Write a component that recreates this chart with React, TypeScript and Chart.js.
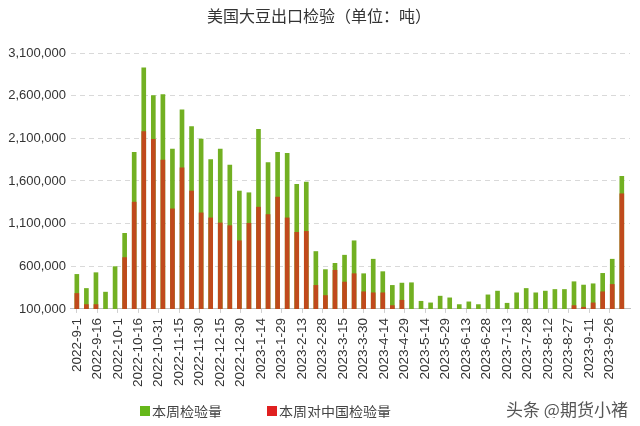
import React, { useEffect, useRef } from "react";
import { Chart, registerables } from "chart.js";

Chart.register(...registerables);

const weekDates = [
  "2022-9-1", "2022-9-8", "2022-9-15", "2022-9-22", "2022-9-29",
  "2022-10-6", "2022-10-13", "2022-10-20", "2022-10-27",
  "2022-11-3", "2022-11-10", "2022-11-17", "2022-11-24",
  "2022-12-1", "2022-12-8", "2022-12-15", "2022-12-22", "2022-12-29",
  "2023-1-5", "2023-1-12", "2023-1-19", "2023-1-26",
  "2023-2-2", "2023-2-9", "2023-2-16", "2023-2-23",
  "2023-3-2", "2023-3-9", "2023-3-16", "2023-3-23", "2023-3-30",
  "2023-4-6", "2023-4-13", "2023-4-20", "2023-4-27",
  "2023-5-4", "2023-5-11", "2023-5-18", "2023-5-25",
  "2023-6-1", "2023-6-8", "2023-6-15", "2023-6-22", "2023-6-29",
  "2023-7-6", "2023-7-13", "2023-7-20", "2023-7-27",
  "2023-8-3", "2023-8-10", "2023-8-17", "2023-8-24", "2023-8-31",
  "2023-9-7", "2023-9-14", "2023-9-21", "2023-9-28", "2023-10-5",
];

const totalInspections = [
  505000, 340000, 525000, 297000, 596000, 986000, 1935000, 2927000, 2600000, 2612000,
  1974000, 2435000, 2238000, 2092000, 1852000, 1974000, 1785000, 1482000, 1462000, 2206000,
  1817000, 1935000, 1923000, 1561000, 1588000, 773000, 561000, 635000, 730000, 899000,
  513000, 683000, 537000, 376000, 403000, 407000, 190000, 171000, 250000, 230000,
  151000, 183000, 151000, 265000, 309000, 167000, 289000, 340000, 289000, 309000,
  328000, 328000, 419000, 380000, 395000, 517000, 683000, 1653000,
];

const chinaInspections = [
  281000, 151000, 151000, 50000, 20000, 702000, 1352000, 2179000, 2088000, 1844000,
  1273000, 1754000, 1482000, 1226000, 1167000, 1108000, 1076000, 899000, 1104000, 1293000,
  1206000, 1411000, 1167000, 998000, 1009000, 376000, 257000, 553000, 415000, 513000,
  301000, 289000, 289000, 139000, 202000, 20000, 0, 0, 0, 0,
  0, 0, 0, 0, 0, 0, 0, 0, 0, 0,
  0, 0, 139000, 120000, 171000, 301000, 387000, 1450000,
];

const xTickLabels = [
  "2022-9-1", "2022-9-16", "2022-10-1", "2022-10-16", "2022-10-31", "2022-11-15",
  "2022-11-30", "2022-12-15", "2022-12-30", "2023-1-14", "2023-1-29", "2023-2-13",
  "2023-2-28", "2023-3-15", "2023-3-30", "2023-4-14", "2023-4-29", "2023-5-14",
  "2023-5-29", "2023-6-13", "2023-6-28", "2023-7-13", "2023-7-28", "2023-8-12",
  "2023-8-27", "2023-9-11", "2023-9-26",
];

const yTicks = [100000, 600000, 1100000, 1600000, 2100000, 2600000, 3100000];

const seriesNames = ["本周检验量", "本周对中国检验量"];
const titleText = "美国大豆出口检验（单位：吨）";
const watermark = "头条 @期货小褚";

const GREEN = "#72b022";
const RED = "#c04a1c";

function dayOffset(s: string): number {
  const [y, m, d] = s.split("-").map(Number);
  const base = Date.UTC(2022, 8, 1);
  return Math.round((Date.UTC(y, m - 1, d) - base) / 86400000);
}

export default function App() {
  const ref = useRef<HTMLCanvasElement | null>(null);

  useEffect(() => {
    if (!ref.current) return;
    const xs = weekDates.map(dayOffset);
    const tickPos = xTickLabels.map(dayOffset);
    const labelAt: Record<number, string> = {};
    tickPos.forEach((p, i) => (labelAt[p] = xTickLabels[i]));

    const chart = new Chart(ref.current, {
      type: "bar",
      data: {
        datasets: [
          {
            label: seriesNames[0],
            data: xs.map((x, i) => ({ x, y: totalInspections[i] })),
            backgroundColor: GREEN,
            barThickness: 4,
            grouped: false,
            order: 1,
          },
          {
            label: seriesNames[1],
            data: xs.map((x, i) => ({ x, y: chinaInspections[i] })),
            backgroundColor: RED,
            barThickness: 4,
            grouped: false,
            order: 0,
          },
        ],
      },
      options: {
        animation: false,
        responsive: true,
        maintainAspectRatio: false,
        layout: { padding: { left: 0, right: 2, top: 0, bottom: 26 } },
        plugins: {
          legend: { display: false },
          tooltip: { enabled: false },
          title: {
            display: true,
            text: titleText,
            color: "#333",
            font: { family: '"Noto Sans CJK SC", sans-serif', size: 16, weight: "normal", lineHeight: 1.0 },
            padding: { top: 0, bottom: 29 },
          },
        },
        scales: {
          x: {
            type: "linear",
            offset: false,
            min: -5,
            max: 405,
            grid: { display: true, drawOnChartArea: false, drawTicks: true, tickLength: 4, color: "#d0d0d0", offset: false },
            border: { display: true, color: "#bfbfbf" },
            afterBuildTicks: (scale: any) => {
              scale.ticks = tickPos.map((v) => ({ value: v }));
            },
            ticks: {
              autoSkip: false,
              maxRotation: 90,
              minRotation: 90,
              padding: 5,
              color: "#333",
              font: { family: '"Liberation Sans", Arial, sans-serif', size: 13.5 },
              callback: (v: any) => labelAt[v as number] ?? "",
            },
          },
          y: {
            min: 100000,
            max: 3100000,
            afterBuildTicks: (scale: any) => {
              scale.ticks = yTicks.map((v) => ({ value: v }));
            },
            afterFit: (scale: any) => {
              scale.width = 62;
            },
            grid: { color: "#d9d9d9", drawTicks: false, lineWidth: 1 },
            border: { display: true, dash: [5, 4], color: "rgba(0,0,0,0)" },
            ticks: {
              padding: 4,
              color: "#333",
              font: { family: '"Liberation Sans", Arial, sans-serif', size: 13 },
              callback: (v: any) => Number(v).toLocaleString("en-US"),
            },
          },
        },
      },
    });
    return () => chart.destroy();
  }, []);

  const legendText: React.CSSProperties = {
    position: "absolute",
    top: 393,
    fontFamily: '"Noto Sans CJK SC", sans-serif',
    fontSize: 14,
    color: "#444",
    display: "flex",
    alignItems: "center",
    whiteSpace: "nowrap",
  };
  const box = (c: string): React.CSSProperties => ({
    display: "inline-block",
    width: 10,
    height: 10,
    background: c,
    marginRight: 2,
  });

  return (
    <div style={{ position: "relative", width: 624, height: 410 }}>
      <canvas ref={ref} />
      <div style={{ ...legendText, left: 132 }}>
        <span style={box("#66b81a")} />
        {seriesNames[0]}
      </div>
      <div style={{ ...legendText, left: 259 }}>
        <span style={box("#e02020")} />
        {seriesNames[1]}
      </div>
      <div
        style={{
          position: "absolute",
          top: 388,
          left: 498,
          fontFamily: '"Noto Sans CJK SC", sans-serif',
          fontSize: 17,
          color: "#555",
          textShadow: "0 0 2px #fff",
          whiteSpace: "nowrap",
        }}
      >
        {watermark}
      </div>
    </div>
  );
}
